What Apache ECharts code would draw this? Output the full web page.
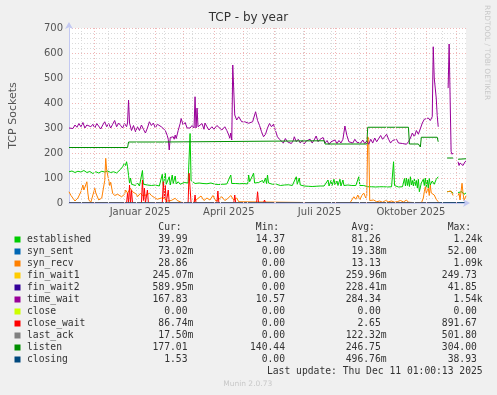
<!DOCTYPE html>
<html>
<head>
<meta charset="utf-8">
<script src="https://cdn.jsdelivr.net/npm/echarts@6/dist/echarts.min.js"></script>
<style>
html,body{margin:0;padding:0;background:#F0F0F0;}
#chart{width:497px;height:395px;}
</style>
</head>
<body>
<div id="chart"></div>
<script>
// ---- time frame (x = days since start date) ----
const START_DATE = [2024, 10, 6];   // 6 Nov 2024
const SPAN_DAYS = 400;
const monthStarts = [[2024,11],[2025,0],[2025,1],[2025,2],[2025,3],[2025,4],[2025,5],[2025,6],[2025,7],[2025,8],[2025,9],[2025,10],[2025,11]];
const labelMonths = [[2025,0],[2025,3],[2025,6],[2025,9]];
const labelTexts = ['Januar 2025','April 2025','Juli 2025','Oktober 2025'];
const weekGridFirst = [2024,10,18];  // first 4-week minor grid Monday
const yTicks = [0,100,200,300,400,500,600,700];

// ---- legend / stats ----
const names  = ['established','syn_sent','syn_recv','fin_wait1','fin_wait2','time_wait','close','close_wait','last_ack','listen','closing'];
const colors = ['#00CC00','#0066B3','#FF8000','#FFCC00','#330099','#990099','#CCFF00','#FF0000','#808080','#008F00','#00487D'];
const curVals = ['39.99','73.02m','28.86','245.07m','589.95m','167.83','0.00','86.74m','17.50m','177.01','1.53'];
const minVals = ['14.37','0.00','0.00','0.00','0.00','10.57','0.00','0.00','0.00','140.44','0.00'];
const avgVals = ['81.26','19.38m','13.13','259.96m','228.41m','284.34','0.00','2.65','122.32m','246.75','496.76m'];
const maxVals = ['1.24k','52.00','1.09k','249.73','41.85','1.54k','0.00','891.67','501.80','304.00','38.93'];

// ---- series values: [day, value] ----
const established = [[0,125],[3,128],[6,122],[9,127],[12,124],[15,130],[18,122],[21,126],[24,118],[27,125],[30,120],[33,127],[36,124],[39,128],[42,122],[45,125],[48,120],[50,126],[52,135],[54,145],[55,140],[56,160],[57,150],[58,165],[59,145],[60,110],[61,80],[62,100],[63,75],[65,72],[67,70],[69,80],[71,68],[73,72],[74,130],[75,75],[77,68],[79,72],[81,65],[83,70],[85,68],[87,72],[89,65],[91,68],[93,62],[94,115],[95,70],[97,119],[98,75],[100,80],[101,105],[102,72],[104,112],[105,78],[107,108],[108,76],[110,85],[112,75],[114,80],[116,82],[118,76],[120,80],[121,75],[122,278],[123,90],[125,90],[127,78],[129,76],[131,80],[133,75],[135,78],[137,74],[139,77],[141,75],[143,80],[145,76],[147,75],[149,78],[151,74],[153,76],[155,75],[157,78],[159,76],[161,80],[163,112],[164,78],[166,76],[168,78],[170,75],[172,77],[174,79],[176,78],[178,82],[180,76],[181,112],[182,85],[184,80],[186,119],[187,80],[189,78],[191,82],[193,75],[195,90],[196,80],[198,100],[199,78],[200,112],[201,80],[203,85],[205,75],[207,72],[209,75],[211,72],[213,70],[215,73],[217,72],[219,70],[221,73],[223,72],[225,70],[227,73],[229,105],[230,75],[232,100],[233,72],[235,70],[237,68],[239,70],[241,67],[243,69],[245,66],[247,68],[249,67],[251,70],[253,68],[255,66],[257,68],[259,70],[261,92],[262,68],[264,90],[265,70],[267,95],[268,72],[270,88],[271,70],[273,95],[274,68],[276,92],[277,70],[279,70],[281,72],[283,68],[285,70],[287,72],[289,70],[291,68],[292,105],[293,70],[295,68],[297,70],[299,66],[301,65],[303,68],[305,65],[307,67],[309,64],[311,66],[313,65],[315,68],[317,65],[319,66],[321,64],[323,66],[325,65],[327,165],[328,70],[330,66],[332,64],[334,66],[336,65],[338,98],[339,68],[340,100],[341,70],[342,95],[343,66],[344,105],[345,72],[346,90],[347,68],[348,98],[349,70],[350,90],[351,60],[352,95],[353,45],[355,80],[357,95],[358,70],[359,100],[360,65],[361,92],[362,60],[363,98],[364,72],[366,88],[368,75],[370,95],[372,105],[373,null],[381,45],[384,47],[387,40],[388,null],[392,42],[394,38],[396,45],[398,35],[400,40]];
const synSent = [[0,0],[206,0],[207,5],[208,0],[228,0],[229,6],[230,0],[245,0],[246,4],[247,0],[271,0],[272,5],[273,0],[276,0],[277,4],[278,0],[350,0],[351,5],[352,0],[400,0.07]];
const synRecv = [[0,45],[2,30],[4,19],[6,8],[7,5],[9,20],[10,25],[12,45],[14,72],[15,52],[16,60],[18,85],[19,40],[20,12],[22,3],[23,1],[25,45],[26,59],[27,40],[28,32],[30,12],[31,8],[33,20],[34,25],[36,90],[37,179],[38,130],[40,92],[41,70],[42,83],[44,39],[46,30],[47,25],[49,35],[51,39],[53,25],[54,19],[56,35],[57,52],[59,40],[60,32],[62,59],[64,45],[66,52],[68,35],[69,25],[71,32],[72,39],[74,30],[76,25],[78,32],[81,39],[83,30],[84,28],[86,22],[87,19],[89,15],[91,12],[93,20],[94,25],[96,18],[97,12],[99,8],[101,5],[103,10],[105,15],[107,19],[109,10],[111,5],[113,3],[116,0],[125,0],[126,8],[128,12],[130,15],[133,28],[136,10],[139,20],[142,12],[145,30],[148,8],[151,15],[154,25],[157,10],[160,18],[163,30],[166,12],[169,20],[171,5],[173,0],[283,0],[285,8],[287,25],[289,15],[291,32],[293,12],[295,30],[297,40],[299,20],[300,30],[301,265],[302,255],[303,10],[305,5],[307,12],[310,5],[313,8],[316,3],[319,10],[322,5],[325,8],[328,3],[331,6],[334,10],[337,4],[340,12],[342,3],[355,0],[357,20],[358,45],[359,65],[360,40],[361,50],[362,59],[363,30],[364,72],[365,40],[366,45],[368,32],[370,15],[372,5],[373,null],[381,45],[383,40],[385,48],[387,30],[388,null],[392,30],[393,39],[394,12],[395,20],[396,79],[397,40],[398,10],[399,15],[400,29]];
const finWait1 = [[0,0],[400,0.25]];
const finWait2 = [[0,0],[400,0.59]];
const timeWait = [[0,300],[2,305],[4,298],[6,312],[8,303],[10,318],[12,305],[14,322],[16,300],[18,312],[20,320],[22,305],[24,315],[26,300],[28,318],[30,310],[32,296],[34,312],[36,325],[38,305],[40,318],[42,300],[44,315],[46,330],[48,305],[50,320],[52,310],[54,300],[56,318],[58,305],[59,320],[60,412],[61,320],[63,290],[65,310],[67,285],[69,305],[71,290],[73,312],[75,295],[77,280],[79,300],[81,325],[83,310],[85,320],[87,300],[89,315],[91,322],[93,305],[95,300],[97,290],[99,270],[100,255],[101,212],[102,262],[104,258],[105,265],[106,255],[107,272],[108,258],[109,262],[110,290],[112,318],[113,338],[115,312],[117,322],[119,300],[121,308],[122,300],[124,310],[126,300],[127,425],[128,300],[129,380],[130,305],[132,300],[134,318],[136,295],[137,320],[139,305],[141,292],[144,305],[146,295],[147,292],[149,310],[151,305],[154,292],[156,300],[157,305],[159,290],[161,272],[162,259],[163,280],[164,252],[165,552],[167,352],[169,332],[171,345],[174,325],[177,325],[179,330],[181,319],[183,315],[185,325],[187,320],[188,365],[190,330],[192,310],[194,285],[196,265],[198,275],[200,300],[202,318],[204,305],[206,315],[208,290],[210,265],[212,255],[214,255],[216,240],[218,258],[220,245],[222,252],[224,238],[226,250],[227,265],[229,245],[231,255],[233,240],[235,250],[237,236],[239,248],[241,240],[243,255],[245,240],[247,252],[249,268],[251,245],[253,255],[256,262],[258,240],[260,250],[262,235],[264,245],[266,240],[268,252],[270,238],[272,250],[274,240],[276,255],[278,308],[280,270],[282,245],[284,250],[286,240],[288,255],[290,243],[292,248],[294,240],[296,252],[298,238],[300,248],[302,235],[304,255],[306,240],[308,260],[310,245],[312,250],[314,270],[316,255],[318,265],[320,275],[322,255],[324,240],[326,250],[328,245],[330,255],[332,240],[334,248],[336,238],[338,245],[340,235],[342,245],[344,260],[346,280],[348,265],[350,290],[352,275],[354,270],[356,320],[358,335],[360,330],[362,340],[364,330],[366,345],[367,625],[368,500],[369,492],[370,420],[371,350],[372,305],[373,null],[382,460],[383,636],[385,205],[386,195],[387,200],[388,null],[392,165],[393,150],[394,160],[395,155],[396,162],[397,150],[398,158],[399,165],[400,168]];
const closeS = [[0,0],[400,0]];
const closeWait = [[0,0],[58,0],[59,39],[60,0],[61,72],[62,0],[63,50],[64,0],[73,0],[74,92],[75,10],[76,60],[77,0],[78,0],[79,52],[80,0],[94,0],[95,85],[96,20],[97,70],[98,0],[99,0],[100,52],[101,0],[120,0],[121,119],[122,119],[123,0],[126,0],[127,32],[128,0],[149,0],[150,48],[151,0],[166,0],[167,32],[168,0],[189,0],[190,45],[191,0],[196,0],[197,12],[198,0],[260,0],[261,8],[262,0],[326,0],[327,8],[328,0],[383,0],[384,6],[385,0],[400,0.09]];
const lastAck = [[0,0],[400,0.02]];
const listen = [[0,222],[59,222],[60,244],[94,244],[95,249],[257,249],[258,236],[300,236],[301,303],[342,303],[343,236],[352,236],[354,224],[355,263],[371,263],[372,245],[373,null],[381,180],[387,180],[388,null],[392,175],[400,177]];
const closing = [[0,0],[112,0],[113,5],[114,0],[121,0],[122,6],[123,0],[166,0],[167,6],[168,0],[234,0],[235,5],[236,0],[262,0],[263,4],[264,0],[353,0],[354,4],[355,0],[400,1.5]];

const seriesValues = [established, synSent, synRecv, finWait1, finWait2, timeWait, closeS, closeWait, lastAck, listen, closing];

// ---- build ----
const DAY = 86400000;
const START = Date.UTC(START_DATE[0], START_DATE[1], START_DATE[2]);
const dayOf = t => (t - START) / DAY;
const monthLineDays = monthStarts.map(([y,m]) => dayOf(Date.UTC(y,m,1)));
const labelMidDays = labelMonths.map(([y,m]) => (dayOf(Date.UTC(y,m,1)) + dayOf(Date.UTC(y,m+1,1))) / 2);
const weekLineDays = [];
for (let d = dayOf(Date.UTC(weekGridFirst[0],weekGridFirst[1],weekGridFirst[2])); d < SPAN_DAYS; d += 28) weekLineDays.push(d);

const MAJOR = '#efb6b6', MINOR = '#dadada';
const series = names.map((n, i) => ({
  name: n, type: 'line', color: colors[i], showSymbol: false, symbol: 'none',
  animation: false, silent: true, z: 2,
  lineStyle: { width: 1, color: colors[i] },
  data: seriesValues[i].map(([d, v]) => [d, v === null ? '-' : v])
}));
series.unshift({
  name: '_grid', type: 'line', data: [], z: 1, silent: true, animation: false,
  markLine: {
    symbol: ['none','none'], silent: true, animation: false, label: { show: false },
    data: weekLineDays.map(d => ({ xAxis: d, lineStyle: { color: MINOR, type: [1,2], width: 1 } }))
      .concat(monthLineDays.map(d => ({ xAxis: d, lineStyle: { color: MAJOR, type: [1,2], width: 1 } })))
  }
});

const pad = s => /[a-z]$/i.test(s) ? s : s + ' ';
const MONO = '9.7px "DejaVu Sans Mono"';
const colDefs = [['Cur:', curVals, 193.3], ['Min:', minVals, 290.8], ['Avg:', avgVals, 386.6], ['Max:', maxVals, 482.7]];
const graphics = colDefs.map(([h, vals, x]) => ({
  type: 'text', silent: true, x: x, y: 221.5,
  style: { text: [h + '  '].concat(vals.map(pad)).join('\n'), font: MONO, fill: '#333', align: 'right', verticalAlign: 'top', lineHeight: 12 }
}));
graphics.push({ type: 'text', silent: true, x: 482.7, y: 365.6,
  style: { text: 'Last update: Thu Dec 11 01:00:13 2025', font: MONO, fill: '#333', align: 'right', verticalAlign: 'top', lineHeight: 12 } });
graphics.push({ type: 'text', silent: true, x: 247.7, y: 384,
  style: { text: 'Munin 2.0.73', font: '7.5px "DejaVu Sans"', fill: '#c8c8c8', align: 'center', verticalAlign: 'middle' } });
graphics.push({ type: 'text', silent: true, x: 487, y: 5, rotation: -Math.PI / 2,
  style: { text: 'RRDTOOL / TOBI OETIKER', font: '7.4px "DejaVu Sans"', fill: '#c8c8c8', align: 'left', verticalAlign: 'middle' } });

const chart = echarts.init(document.getElementById('chart'), null, { renderer: 'canvas' });
chart.setOption({
  backgroundColor: '#F0F0F0',
  animation: false,
  title: { text: 'TCP - by year', left: 'center', top: 12, padding: 0,
    textStyle: { fontFamily: 'DejaVu Sans', fontSize: 12, fontWeight: 'normal', color: '#333' } },
  grid: { left: 66, top: 28, width: 400, height: 175, show: true, backgroundColor: '#ffffff', borderWidth: 0 },
  legend: {
    orient: 'vertical', left: 14.5, top: 233.5, padding: 0, itemGap: 0, itemWidth: 6, itemHeight: 6,
    icon: 'rect', selectedMode: false, data: names,
    textStyle: { fontFamily: 'DejaVu Sans Mono', fontSize: 9.7, color: '#333', lineHeight: 12, padding: [0,0,0,1.5] }
  },
  xAxis: {
    type: 'value', min: 0, max: SPAN_DAYS, z: 10,
    axisLine: { show: true, lineStyle: { color: '#c3c9f2', width: 1 }, symbol: ['none','arrow'], symbolSize: [6,7], symbolOffset: [0,4] },
    axisTick: { show: false }, splitLine: { show: false },
    axisLabel: { customValues: labelMidDays, color: '#555', fontFamily: 'DejaVu Sans', fontSize: 10, margin: 4,
      formatter: v => { const i = labelMidDays.findIndex(t => Math.abs(t - v) < 1); return i >= 0 ? labelTexts[i] : ''; } }
  },
  yAxis: {
    type: 'value', min: yTicks[0], max: yTicks[yTicks.length-1], interval: yTicks[1] - yTicks[0],
    name: 'TCP Sockets', nameLocation: 'middle', nameGap: 50,
    nameTextStyle: { color: '#555', fontFamily: 'DejaVu Sans', fontSize: 11 },
    axisLine: { show: true, lineStyle: { color: '#c3c9f2', width: 1 }, symbol: ['none','arrow'], symbolSize: [6,7], symbolOffset: [0,6] },
    axisTick: { show: false },
    axisLabel: { color: '#555', fontFamily: 'DejaVu Sans', fontSize: 10, margin: 6 },
    splitLine: { show: true, lineStyle: { color: MAJOR, type: [1,2], width: 1 } },
    minorTick: { show: false, splitNumber: 5 },
    minorSplitLine: { show: true, lineStyle: { color: MINOR, type: [1,2], width: 1 } }
  },
  graphic: graphics,
  series: series
});
</script>
</body>
</html>
